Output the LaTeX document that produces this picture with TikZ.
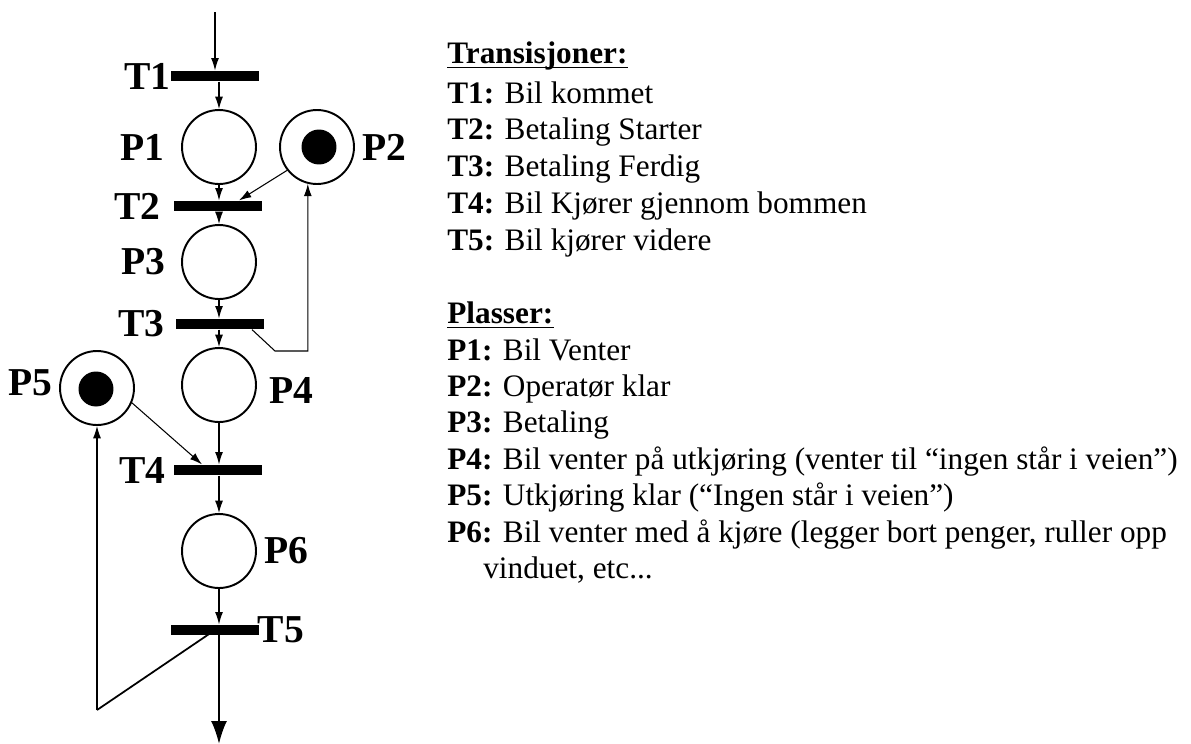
\documentclass[tikz,border=0pt]{standalone}
\usepackage{fontspec}
\setmainfont{Liberation Serif}
\usetikzlibrary{arrows.meta,positioning,calc}

\tikzset{
  place/.style={circle, draw, line width=1.1pt, minimum size=1.48cm, inner sep=0pt},
  token/.style={circle, fill, minimum size=0.7cm, inner sep=0pt},
  trans/.style={rectangle, fill, minimum width=1.76cm, minimum height=0.21cm, inner sep=0pt},
  lbl/.style={inner sep=0pt, font=\fontsize{22.5}{22.5}\selectfont\bfseries},
  flow/.style={-{Latex[length=7pt,width=4.5pt]}, line width=0.6pt},
  txt/.style={inner sep=0pt, anchor=base west, font=\fontsize{17.8}{21}\selectfont},
}

\begin{document}
\begin{tikzpicture}[x=0.02cm, y=-0.02cm]
    \useasboundingbox (0,0) rectangle (1191,744);

    % Transitions
    \node[trans] (t1) at (215,76) {};
    \node[trans] (t2) at (218,206) {};
    \node[trans] (t3) at (220,324) {};
    \node[trans] (t4) at (218,470) {};
    \node[trans] (t5) at (215,630) {};

    % Places and tokens
    \node[place] (p1) at (219,147) {};
    \node[place] (p2) at (317,147) {};
    \node[token] (tok2) at (319,147) {};
    \node[place] (p3) at (219,262) {};
    \node[place] (p4) at (219,385) {};
    \node[place] (p5) at (97,388) {};
    \node[token] (tok5) at (96,389) {};
    \node[place] (p6) at (219,551) {};

    % Labels
    \node[lbl, left=0pt of t1] (lt1) {T1};
    \node[lbl, left=0.26cm of t2] (lt2) {T2};
    \node[lbl, left=0.22cm of t3] (lt3) {T3};
    \node[lbl, left=0.16cm of t4] (lt4) {T4};
    \node[lbl, right=-0.04cm of t5] (lt5) {T5};
    \node[lbl, left=0.32cm of p1] (lp1) {P1};
    \node[lbl, right=0.14cm of p2] (lp2) {P2};
    \node[lbl, left=0.3cm of p3] (lp3) {P3};
    \node[lbl, right=0.24cm of p4, yshift=-0.1cm] (lp4) {P4};
    \node[lbl, left=0.12cm of p5, yshift=0.1cm] (lp5) {P5};
    \node[lbl, right=0.14cm of p6] (lp6) {P6};

    % Arcs down the main column
    \coordinate (in) at (215,12);
    \draw[flow] (in) -- (t1.north);
    \draw[flow] (p1.north |- t1.south) -- (p1.north);
    \draw[flow] (p1.south) -- (p1.south |- t2.north);
    \draw[flow] (p3.north |- t2.south) -- (p3.north);
    \draw[flow] (p3.south) -- (p3.south |- t3.north);
    \draw[flow] (p4.north |- t3.south) -- (p4.north);
    \draw[flow] (p4.south) -- (p4.south |- t4.north);
    \draw[flow] (p6.north |- t4.south) -- (p6.north);
    \draw[flow] (p6.south) -- (p6.south |- t5.north);

    % Operator loop
    \draw[flow] (p2.218) -- ($(t2.north)+(21,0)$);
    \coordinate (c1) at (275,351);
    \draw[flow] ($(t3.south)+(32,0)$) -- (c1) -- (c1 -| p2.256) -- (p2.256);

    % Exit loop
    \draw[flow] (p5.-23) -- ($(t4.north)+(-16,0)$);
    \coordinate (c3) at (97,710);
    \draw[line width=1pt] (t5.center) -- (c3);
    \draw[flow] (c3) -- (p5.south);

    % Outgoing car
    \coordinate (out) at (219,744);
    \draw[-{Latex[length=13pt,width=9pt]}, line width=1.1pt] (p6 |- t5.center) -- (out);

    % Legend: transitions
    \node[txt] (thead) at (447,63) {\bfseries Transisjoner:};
    \draw[line width=0.85pt] ([yshift=-2.6pt]thead.base west) -- ([yshift=-2.6pt]thead.base east);
    \foreach \name/\desc [count=\i from 0] in {
        T1/Bil kommet,
        T2/Betaling Starter,
        T3/Betaling Ferdig,
        T4/Bil Kjører gjennom bommen,
        T5/Bil kjører videre}
        \node[txt] (tdesc\i) at (447,{103+36.8*\i}) {\textbf{\name:} \desc};

    % Legend: places
    \node[txt] (phead) at (447,323) {\bfseries Plasser:};
    \draw[line width=0.85pt] ([yshift=-2.6pt]phead.base west) -- ([yshift=-2.6pt]phead.base east);
    \foreach \name/\desc [count=\i from 0] in {
        P1/Bil Venter,
        P2/Operatør klar,
        P3/Betaling,
        P4/Bil venter på utkjøring (venter til “ingen står i veien”),
        P5/Utkjøring klar (“Ingen står i veien”),
        {P6/Bil venter med å kjøre (legger bort penger, ruller opp}}
        \node[txt] (pdesc\i) at (447,{360+36.4*\i}) {\textbf{\name:} \desc};
    \node[txt] (pmore) at (483,578) {vinduet, etc...};
\end{tikzpicture}
\end{document}
